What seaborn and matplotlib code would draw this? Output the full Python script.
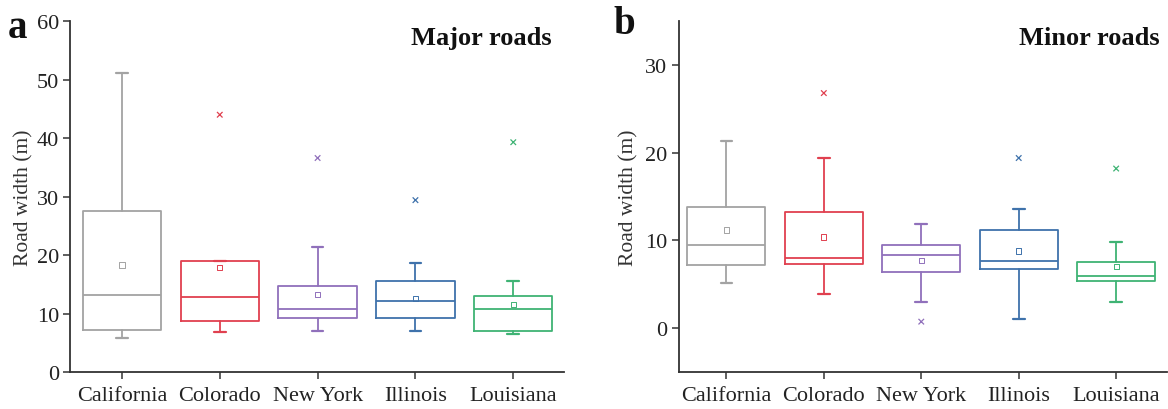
import matplotlib
matplotlib.use("Agg")
import matplotlib.pyplot as plt
import seaborn as sns
import pandas as pd

# categories and colours
states = ['California', 'Colorado', 'New York', 'Illinois', 'Louisiana']
colors = ['#a3a3a3', '#e0404f', '#9070bb', '#3f72ab', '#3fb374']

# major roads (panel a), box summary
major_whislo = [5.8, 6.8, 7.0, 7.0, 6.5]
major_q1 = [7.2, 8.8, 9.2, 9.2, 7.1]
major_med = [13.2, 12.8, 10.8, 12.1, 10.8]
major_q3 = [27.5, 19.0, 14.8, 15.6, 13.0]
major_whishi = [51.2, 19.0, 21.4, 18.6, 15.6]
major_mean = [18.3, 17.9, 13.2, 12.6, 11.6]
major_out = [[], [44.0], [36.6], [29.4], [39.3]]

# minor roads (panel b)
minor_whislo = [5.2, 3.9, 3.0, 1.1, 3.0]
minor_q1 = [7.2, 7.3, 6.4, 6.8, 5.4]
minor_med = [9.5, 8.0, 8.3, 7.7, 6.0]
minor_q3 = [13.8, 13.2, 9.5, 11.2, 7.5]
minor_whishi = [21.3, 19.4, 11.9, 13.6, 9.8]
minor_mean = [11.2, 10.4, 7.7, 8.8, 7.05]
minor_out = [[], [26.8], [0.75], [19.4], [18.2]]

sns.set_theme(style="ticks")
plt.rcParams['font.family'] = ['Liberation Serif', 'DejaVu Serif']


def draw_panel(ax, whislo, q1, med, q3, whishi, mean, out):
    stats = []
    for i in range(len(states)):
        stats.append({'label': states[i], 'whislo': whislo[i], 'q1': q1[i],
                      'med': med[i], 'q3': q3[i], 'whishi': whishi[i],
                      'fliers': []})
    pos = list(range(len(states)))
    bp = ax.bxp(stats, positions=pos, widths=0.8, capwidths=0.12,
                showfliers=False, manage_ticks=False)
    for i, c in enumerate(colors):
        bp['boxes'][i].set(color=c, linewidth=1.3)
        bp['medians'][i].set(color=c, linewidth=1.3)
        for k in (2 * i, 2 * i + 1):
            bp['whiskers'][k].set(color=c, linewidth=1.3)
            bp['caps'][k].set(color=c, linewidth=1.6)

    # mean markers (hollow squares)
    mdf = pd.DataFrame({'x': pos, 'y': mean, 'state': states})
    sns.scatterplot(data=mdf, x='x', y='y', hue='state', palette=colors,
                    marker='s', s=14, linewidth=0.7, legend=False, ax=ax)
    coll = ax.collections[-1]
    coll.set_edgecolor(colors)
    coll.set_facecolor('none')

    # outliers
    ox, oy, os_ = [], [], []
    for i, vals in enumerate(out):
        for v in vals:
            ox.append(i)
            oy.append(v)
            os_.append(states[i])
    odf = pd.DataFrame({'x': ox, 'y': oy, 'state': os_})
    sns.scatterplot(data=odf, x='x', y='y', hue='state',
                    palette=dict(zip(states, colors)), marker='x', s=16,
                    linewidth=0.9, legend=False, ax=ax)

    ax.set_xticks(pos)
    ax.set_xticklabels(states, fontsize=16, color='#222222')
    ax.set_xlabel('')
    ax.set_ylabel('Road width (m)', fontsize=15.5, color='#333333')
    ax.tick_params(axis='both', direction='out', length=5, width=1.1,
                   color='#333333', labelcolor='#222222', pad=3)
    ax.tick_params(axis='x', pad=5)
    ax.tick_params(axis='y', labelsize=16)
    for sp in ('left', 'bottom'):
        ax.spines[sp].set_linewidth(1.3)
        ax.spines[sp].set_color('#333333')
    sns.despine(ax=ax)


fig = plt.figure(figsize=(11.68, 4.10), dpi=100)
ax1 = fig.add_axes([0.060, 0.090, 0.423, 0.856])
ax2 = fig.add_axes([0.581, 0.090, 0.418, 0.856])

draw_panel(ax1, major_whislo, major_q1, major_med, major_q3, major_whishi,
           major_mean, major_out)
ax1.set_ylim(0, 60)
ax1.set_yticks([0, 10, 20, 30, 40, 50, 60])
ax1.set_xlim(-0.53, 4.52)
ax1.yaxis.labelpad = 2
ax1.text(0.975, 0.985, 'Major roads', transform=ax1.transAxes, ha='right',
         va='top', fontsize=19, fontweight='bold', color='#111111')

draw_panel(ax2, minor_whislo, minor_q1, minor_med, minor_q3, minor_whishi,
           minor_mean, minor_out)
ax2.set_ylim(-5, 35)
ax2.set_yticks([0, 10, 20, 30])
ax2.set_xlim(-0.49, 4.52)
ax2.yaxis.labelpad = 5
ax2.text(0.985, 0.985, 'Minor roads', transform=ax2.transAxes, ha='right',
         va='top', fontsize=19, fontweight='bold', color='#111111')

fig.text(0.007, 0.975, 'a', fontsize=28, fontweight='bold', va='top',
         color='#111111')
fig.text(0.525, 0.985, 'b', fontsize=28, fontweight='bold', va='top',
         color='#111111')

fig.savefig('out.png', dpi=100)
